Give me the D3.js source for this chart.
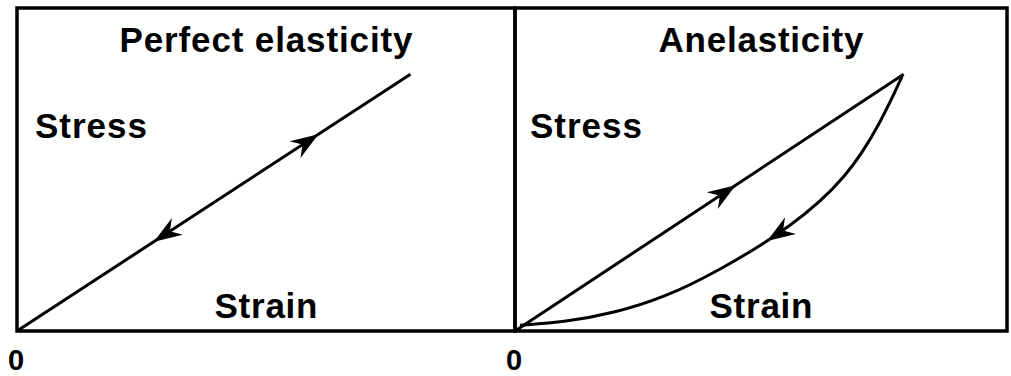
<!DOCTYPE html>
<html>
<head>
<meta charset="utf-8">
<script src="https://cdn.jsdelivr.net/npm/d3@7"></script>
<style>
  body { margin: 0; background: #fff; }
  text { font-family: "Liberation Sans", Arial, sans-serif; font-weight: bold; fill: #000; }
</style>
</head>
<body>
<div id="chart"></div>
<script>
// panel titles and axis words
let titles = ['Perfect elasticity', 'Anelasticity'];
let yLabel = 'Stress';
let xLabel = 'Strain';
let originLabel = '0';

// loading line (both panels), in strain / stress units (0..1 of the panel)
let loadStrain = [0, 0.79];
let loadStress = [0, 0.795];

// unloading curve of the anelastic panel, peak back to origin
let unloadStrain = [0.787, 0.746, 0.677, 0.563, 0.407, 0.305, 0.203, 0.102, 0.01];
let unloadStress = [0.789, 0.653, 0.477, 0.322, 0.180, 0.105, 0.056, 0.028, 0.018];

// where the arrow tips sit (strain value) and which way they point
let leftArrows = [[0.604, 'up'], [0.277, 'down']];
let rightArrows = [[0.447, 'up'], [0.514, 'down']];

let width = 1011, height = 376;
let frameTop = 8, frameBottom = 331;
let panelX = [[17, 515], [515, 1007]];

let svg = d3.select('#chart').append('svg')
  .attr('width', width)
  .attr('height', height)
  .style('display', 'block')
  .style('background', '#fff');

let textLen = { 'Perfect elasticity': 293, 'Anelasticity': 205, 'Stress': 112, 'Strain': 103 };

function arrowHead(g, p, angle) {
  g.append('path')
    .attr('d', 'M1,0 L-27,-10 L-18,0 L-27,10 Z')
    .attr('transform', `translate(${p[0]},${p[1]}) rotate(${angle * 180 / Math.PI})`)
    .attr('fill', '#000');
}

// walk along a drawn path and find the point whose x matches the target
function pointAtX(node, xt) {
  let L = node.getTotalLength();
  let best = 0, bd = Infinity;
  for (let l = 0; l <= L; l += 0.5) {
    let pt = node.getPointAtLength(l);
    if (Math.abs(pt.x - xt) < bd) { bd = Math.abs(pt.x - xt); best = l; }
  }
  return best;
}

function drawArrows(g, node, x, arrows, forwardDir) {
  arrows.forEach(([s, dir]) => {
    let l = pointAtX(node, x(s));
    let a = node.getPointAtLength(l);
    let step = dir === forwardDir ? -3 : 3;
    let b = node.getPointAtLength(Math.max(0, l + step));
    let ang = Math.atan2(a.y - b.y, a.x - b.x);
    arrowHead(g, [a.x, a.y], ang);
  });
}

panelX.forEach((range, i) => {
  let x = d3.scaleLinear().domain([0, 1]).range(range);
  let y = d3.scaleLinear().domain([0, 1]).range([frameBottom, frameTop]);
  let g = svg.append('g');
  let cx = (range[0] + range[1]) / 2;

  // frame
  g.append('rect')
    .attr('x', x(0)).attr('y', y(1))
    .attr('width', x(1) - x(0)).attr('height', y(0) - y(1))
    .attr('fill', 'none').attr('stroke', '#000').attr('stroke-width', 3.5);

  let line = d3.line().x(d => x(d[0])).y(d => y(d[1]));

  let loadPath = g.append('path')
    .datum(loadStrain.map((s, k) => [s, loadStress[k]]))
    .attr('d', line)
    .attr('fill', 'none').attr('stroke', '#000').attr('stroke-width', 3);

  if (i === 0) {
    drawArrows(g, loadPath.node(), x, leftArrows, 'up');
  } else {
    drawArrows(g, loadPath.node(), x, rightArrows.filter(a => a[1] === 'up'), 'up');
    let unload = g.append('path')
      .datum(unloadStrain.map((s, k) => [s, unloadStress[k]]))
      .attr('d', line.curve(d3.curveBasis))
      .attr('fill', 'none').attr('stroke', '#000').attr('stroke-width', 3);
    drawArrows(g, unload.node(), x, rightArrows.filter(a => a[1] === 'down'), 'down');
  }

  g.append('text')
    .attr('x', cx).attr('y', 52)
    .attr('text-anchor', 'middle')
    .attr('font-size', 35)
    .attr('textLength', textLen[titles[i]])
    .attr('lengthAdjust', 'spacing')
    .text(titles[i]);

  g.append('text')
    .attr('x', x(0) + (i === 0 ? 18 : 15)).attr('y', 138)
    .attr('font-size', 35)
    .attr('textLength', textLen[yLabel])
    .attr('lengthAdjust', 'spacing')
    .text(yLabel);

  g.append('text')
    .attr('x', cx).attr('y', 318)
    .attr('text-anchor', 'middle')
    .attr('font-size', 35)
    .attr('textLength', textLen[xLabel])
    .attr('lengthAdjust', 'spacing')
    .text(xLabel);

  g.append('text')
    .attr('x', x(0) - 1).attr('y', 370)
    .attr('text-anchor', 'middle')
    .attr('font-size', 29)
    .text(originLabel);
});
</script>
</body>
</html>
